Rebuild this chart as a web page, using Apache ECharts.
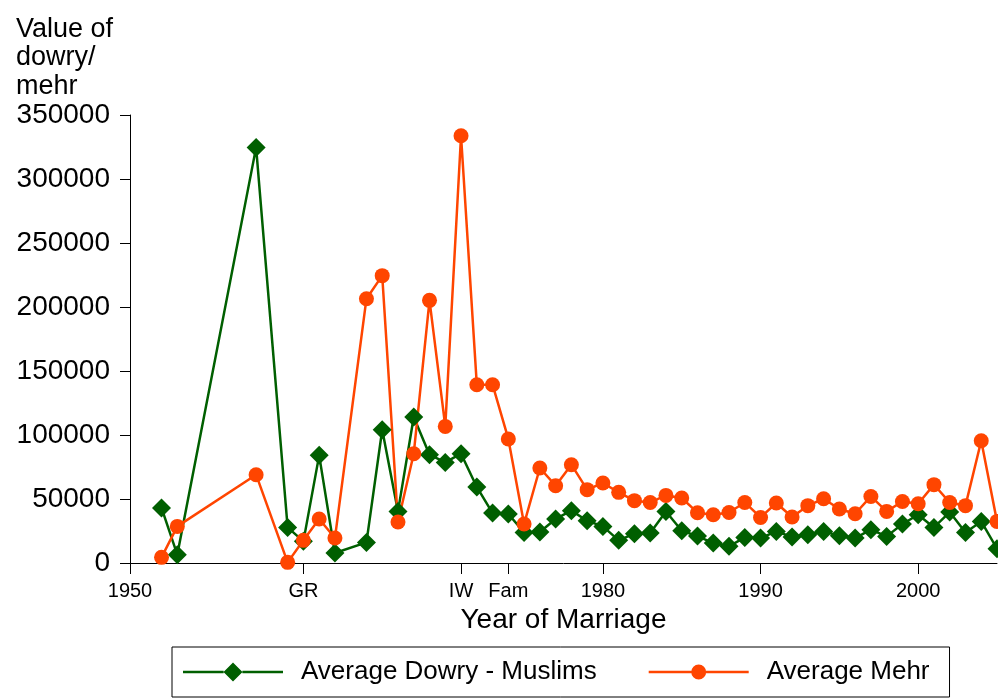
<!DOCTYPE html>
<html>
<head>
<meta charset="utf-8">
<script src="https://cdn.jsdelivr.net/npm/echarts@6/dist/echarts.min.js"></script>
<style>
html,body{margin:0;padding:0;background:#fff;}
#main{width:998px;height:698px;}
</style>
</head>
<body>
<div id="main"></div>
<script>
var years = [1952,1953,1958,1960,1961,1962,1963,1965,1966,1967,
  1968,1969,1970,1971,1972,1973,1974,1975,1976,1977,1978,1979,
  1980,1981,1982,1983,1984,1985,1986,1987,1988,1989,
  1990,1991,1992,1993,1994,1995,1996,1997,1998,1999,
  2000,2001,2002,2003,2004,2005];

var dowry = [43000,6500,324700,27800,16900,84100,7800,16100,104100,40300,
  114000,84600,78600,85400,59400,39000,38300,23900,24200,34400,40900,33000,
  28600,17700,22900,23400,40300,25200,21000,15600,13000,20000,
  19500,24700,20300,22100,24700,21300,19500,26000,20800,30500,
  37700,27800,39800,23900,32500,11200];

var mehr = [4400,28600,69000,500,17700,34400,19500,206500,224500,32000,
  85400,205200,106700,333800,139300,139300,96900,30500,74200,60400,76800,57300,
  62500,55200,48700,47300,52800,50800,39300,37700,39500,47300,
  35600,46900,35900,44800,50200,42200,38500,52000,40300,48100,
  46300,61200,47300,44800,95500,32500];

// x ticks: plain years plus event markers
var tickYears = [1950,1961,1971,1974,1980,1990,2000];
var tickNames = ['1950','GR','IW','Fam','1980','1990','2000'];

var seriesNames = ['Average Dowry - Muslims','Average Mehr'];

function pairs(vals){
  return years.map(function(y,i){ return [y, vals[i]]; });
}

// legend keys: line with marker in the middle (line split so shapes don't overlap)
var diamondKey = 'path://M0 8.25L40.6 8.25L40.6 10.75L0 10.75Z' +
  'M59.4 8.25L100 8.25L100 10.75L59.4 10.75Z' +
  'M40.5 9.5L50 0L59.5 9.5L50 19Z';
var circleKey = 'path://M0 6.25L42.7 6.25L42.7 8.75L0 8.75Z' +
  'M57.3 6.25L100 6.25L100 8.75L57.3 8.75Z' +
  'M42.5 7.5A7.5 7.5 0 1 1 57.5 7.5A7.5 7.5 0 1 1 42.5 7.5Z';

var font = 'Liberation Sans, Arial, sans-serif';
var chart = echarts.init(document.getElementById('main'));

chart.setOption({
  animation:false,
  textStyle:{fontFamily:font, color:'#000'},
  title:{
    text:'Value of\ndowry/\nmehr',
    left:11, top:10,
    textStyle:{fontFamily:font, fontSize:27, fontWeight:'normal', color:'#000', lineHeight:28.5}
  },
  grid:{left:130, right:1, top:115, bottom:135},
  legend:{
    data:[
      {name:seriesNames[0], icon:diamondKey},
      {name:seriesNames[1], icon:circleKey}
    ],
    left:172, top:647,
    itemWidth:100, itemHeight:19, itemGap:52,
    padding:[12,20,12,11],
    borderColor:'#000', borderWidth:1,
    textStyle:{fontFamily:font, fontSize:26, color:'#000', padding:[0,0,0,13]}
  },
  xAxis:{
    type:'value', min:1950, max:2005,
    name:'Year of Marriage', nameLocation:'middle', nameGap:36,
    nameTextStyle:{fontFamily:font, fontSize:28, color:'#000'},
    splitLine:{show:false},
    axisLine:{lineStyle:{color:'#000', width:1}},
    axisTick:{length:11, lineStyle:{color:'#000'}, customValues:tickYears},
    axisLabel:{
      customValues:tickYears, margin:18, fontSize:20, color:'#000', fontFamily:font,
      formatter:function(v){ var i = tickYears.indexOf(v); return i >= 0 ? tickNames[i] : ''; }
    }
  },
  yAxis:{
    type:'value', min:0, max:350000, interval:50000,
    splitLine:{show:false},
    axisLine:{show:true, lineStyle:{color:'#000', width:1}},
    axisTick:{show:true, length:10, lineStyle:{color:'#000'}},
    axisLabel:{margin:20, fontSize:28, color:'#000', fontFamily:font,
      formatter:function(v){ return String(v); }}
  },
  series:[
    {
      name:seriesNames[0], type:'line', data:pairs(dowry),
      symbol:'diamond', symbolSize:19,
      lineStyle:{color:'#005f00', width:2.5},
      itemStyle:{color:'#005f00'}
    },
    {
      name:seriesNames[1], type:'line', data:pairs(mehr),
      symbol:'circle', symbolSize:15,
      lineStyle:{color:'#ff4500', width:2.5},
      itemStyle:{color:'#ff4500'}
    }
  ]
});
</script>
</body>
</html>
